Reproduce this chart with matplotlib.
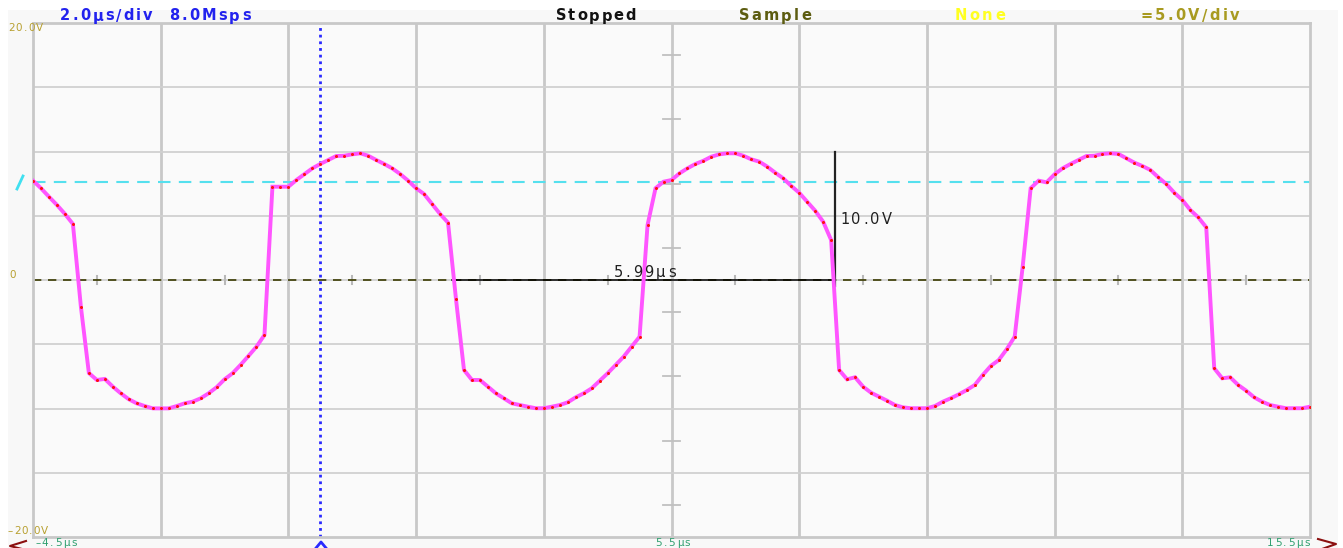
import numpy as np
import matplotlib
matplotlib.use("Agg")
import matplotlib.pyplot as plt
from matplotlib.lines import Line2D
from matplotlib.patches import Rectangle

# ---------------- data ----------------
sample_interval_us = 0.125          # 8.0 Msps
t_start_us = -4.5
volts = [
    7.73, 7.14, 6.48, 5.84, 5.14, 4.36, -2.08, -7.24, -7.78, -7.70,
    -8.30, -8.82, -9.28, -9.60, -9.81, -9.99, -9.99, -9.99, -9.81, -9.60,
    -9.47, -9.21, -8.82, -8.35, -7.73, -7.26, -6.61, -5.91, -5.19, -4.28,
    7.26, 7.26, 7.26, 7.78, 8.23, 8.69, 9.03, 9.34, 9.65, 9.67,
    9.78, 9.86, 9.67, 9.34, 9.03, 8.69, 8.25, 7.73, 7.14, 6.69,
    5.91, 5.14, 4.46, -1.50, -7.00, -7.78, -7.78, -8.30, -8.82, -9.21,
    -9.60, -9.73, -9.86, -9.98, -9.98, -9.86, -9.73, -9.52, -9.13, -8.82,
    -8.43, -7.84, -7.26, -6.61, -5.97, -5.19, -4.41, 4.28, 7.14, 7.65,
    7.78, 8.30, 8.69, 9.03, 9.28, 9.60, 9.78, 9.86, 9.86, 9.67,
    9.39, 9.21, 8.82, 8.35, 7.91, 7.32, 6.79, 6.09, 5.39, 4.54,
    3.11, -7.00, -7.73, -7.57, -8.30, -8.77, -9.08, -9.39, -9.73, -9.91,
    -9.98, -9.98, -9.98, -9.81, -9.47, -9.20, -8.90, -8.56, -8.17, -7.39,
    -6.69, -6.23, -5.39, -4.41, 1.04, 7.14, 7.73, 7.60, 8.23, 8.69,
    9.03, 9.34, 9.65, 9.67, 9.81, 9.86, 9.81, 9.47, 9.13, 8.87,
    8.56, 7.99, 7.47, 6.79, 6.23, 5.45, 4.88, 4.10, -6.87, -7.65,
    -7.57, -8.17, -8.61, -9.13, -9.47, -9.73, -9.86, -9.98, -9.98, -9.98,
    -9.86,
]
times = [t_start_us + sample_interval_us * i for i in range(len(volts))]

x_min, x_max = -4.5, 15.5
y_min, y_max = -20.0, 20.0
x_div = 2.0
y_div = 5.0
trigger_time = 0.0
trigger_level = 7.63
center_time = 5.5

meas_t0, meas_t1 = 2.07, 8.06
meas_v0, meas_v1 = -0.5, 10.0
meas_dt_label = "5.99µs"
meas_dv_label = "10.0V"

header_left = "2.0µs/div  8.0Msps"
header_state = "Stopped"
header_mode = "Sample"
header_trig = "None"
header_scale = "=5.0V/div"
x_labels = ["\u20134.5µs", "5.5µs", "15.5µs"]
y_labels = ["20.0V", "\u201320.0V", "0"]

# ---------------- figure ----------------
W, H = 1343, 548
fig = plt.figure(figsize=(W / 100, H / 100), dpi=100)
fig.patch.set_facecolor("white")
renderer = fig.canvas.get_renderer()

def fx(px):
    return px / W

def fy(py):
    return 1 - py / H

fig.add_artist(Rectangle((fx(8), fy(548)), fx(1330), 538 / H,
                         transform=fig.transFigure, facecolor="#f8f8f8",
                         edgecolor="none", zorder=0))

def spaced_text(x_px, y_px, s, tracking, ha="left", **kw):
    """Draw text char by char with extra tracking (pixels)."""
    widths = []
    for ch in s:
        t = fig.text(0, 0, ch, **kw)
        widths.append(t.get_window_extent(renderer).width)
        t.remove()
    total = sum(widths) + tracking * (len(s) - 1)
    if ha == "center":
        x = x_px - total / 2
    elif ha == "right":
        x = x_px - total
    else:
        x = x_px
    for ch, w in zip(s, widths):
        fig.text(fx(x), fy(y_px), ch, ha="left", va="center", **kw)
        x += w + tracking

ax = fig.add_axes([fx(33), fy(537), (1310 - 33) / W, (537 - 23) / H])
ax.set_facecolor("#fafafa")
ax.set_xlim(x_min, x_max)
ax.set_ylim(y_min, y_max)
ax.set_xticks([])
ax.set_yticks([])
for s in ax.spines.values():
    s.set_color("#c8c8c8")
    s.set_linewidth(2)

# grid
for k in range(1, int(round((x_max - x_min) / x_div))):
    ax.axvline(x_min + k * x_div, color="#c8c8c8", lw=2, zorder=1)
for k in range(1, int(round((y_max - y_min) / y_div))):
    ax.axhline(y_min + k * y_div, color="#d0d0d0", lw=1.3, zorder=1)

# center cross ticks
for k in range(8):
    yv = y_min + y_div / 2 + k * y_div
    ax.plot([center_time - 0.14, center_time + 0.14], [yv, yv],
            color="#c0c0c0", lw=1.3, zorder=1)
for k in range(10):
    xv = x_min + x_div / 2 + k * x_div
    ax.plot([xv, xv], [-0.35, 0.35], color="#b8b8b8", lw=1.5, zorder=1)

# zero & trigger lines
ax.axhline(0, color="#3a3a00", lw=1.2, ls=(0, (5, 4)), zorder=2)
ax.axhline(trigger_level, color="#55e0ee", lw=1.5, ls=(0, (6, 4)), zorder=2)
ax.axvline(trigger_time, color="#2a2aff", lw=2, ls=(0, (1, 1.4)), zorder=2)

# measurement cursors
ax.plot([meas_t0, meas_t1], [0, 0], color="black", lw=1.1, zorder=3)
ax.plot([meas_t1, meas_t1], [meas_v0, meas_v1], color="#222222", lw=1.6, zorder=3)

# trace
ax.plot(times, volts, color="#ff55ff", lw=2.8, zorder=4, solid_joinstyle="miter")
ax.plot(times, volts, ls="none", marker="o", ms=2.2, color="#ff1010",
        markeredgewidth=0, zorder=5)

# measurement labels
spaced_text(614, 273, meas_dt_label, 2.4, color="#202020", fontsize=10.5,
            family="DejaVu Sans", zorder=6)
spaced_text(840, 219, meas_dv_label, 2.2, color="#202020", fontsize=10.5,
            family="DejaVu Sans", zorder=6)

# header texts
hk = dict(fontsize=10.5, fontweight="bold")
spaced_text(60, 16, header_left, 2.1, color="#2222ee", **hk)
spaced_text(596, 16, header_state, 1.9, ha="center", color="#111111", **hk)
spaced_text(775, 16, header_mode, 2.2, ha="center", color="#5c5c10", **hk)
spaced_text(980, 16, header_trig, 2.6, ha="center", color="#ffff20", **hk)
spaced_text(1190, 16, header_scale, 2.4, ha="center", color="#a89a20", **hk)

# axis labels
sk = dict(fontsize=7.5)
spaced_text(8, 28, y_labels[0], 1.2, color="#b8a030", **sk)
spaced_text(8, 531, y_labels[1], 1.0, color="#b8a030", **sk)
spaced_text(13, 275, y_labels[2], 0, ha="center", color="#b8a030", **sk)
spaced_text(35, 543, x_labels[0], 1.5, color="#30a070", **sk)
spaced_text(673, 543, x_labels[1], 1.5, ha="center", color="#30a070", **sk)
spaced_text(1310, 543, x_labels[2], 1.5, ha="right", color="#30a070", **sk)

# markers around the frame
def fig_line(xs, ys, **kw):
    fig.add_artist(Line2D([fx(v) for v in xs], [fy(v) for v in ys],
                          transform=fig.transFigure, **kw))

fig_line([17, 23], [189, 176], color="#40e0f0", lw=2)                 # trigger level mark
fig_line([316, 321, 326], [548, 542, 548], color="#2a2aff", lw=2)    # trigger position
fig_line([26, 10, 22], [541, 546, 549], color="#8b1010", lw=1.5)      # left arrow
fig_line([1318, 1336, 1322], [539, 544, 549], color="#8b1010", lw=1.5)  # right arrow

fig.savefig("out.png", dpi=100, facecolor=fig.get_facecolor())
